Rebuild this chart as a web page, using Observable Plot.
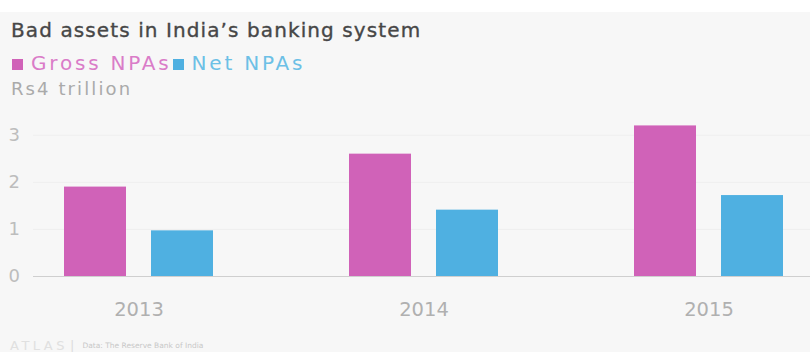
<!DOCTYPE html>
<html><head><meta charset="utf-8">
<script src="https://cdn.jsdelivr.net/npm/d3@7"></script>
<script src="https://cdn.jsdelivr.net/npm/@observablehq/plot@0.6"></script>
<style>
html,body{margin:0;padding:0;}
body{background:#f7f7f7;width:810px;height:352px;overflow:hidden;position:relative;font-family:"DejaVu Sans",sans-serif;}
#topband{position:absolute;left:0;top:0;width:810px;height:12px;background:#fff;}
.title{position:absolute;left:11px;top:18px;font-size:20px;line-height:24px;letter-spacing:1.1px;color:#474747;-webkit-text-stroke:0.35px #474747;white-space:nowrap;}
.legend{position:absolute;left:12px;top:51px;font-size:20px;line-height:24px;letter-spacing:2.8px;white-space:nowrap;}
.legend .sw{display:inline-block;width:11px;height:11px;margin-right:8px;vertical-align:0px;}
.legend .sw2{margin-left:1px;}
.unit{position:absolute;left:11px;top:78px;font-size:18px;line-height:22px;letter-spacing:2.1px;color:#aaa;white-space:nowrap;}
#grid, #chart{position:absolute;left:0;top:105px;}
.footer{position:absolute;left:10px;top:335px;white-space:nowrap;color:#ddd;}
.footer .atlas{font-size:13px;letter-spacing:3.5px;color:#e0e0e0;}
.footer .sep{font-size:13px;color:#ddd;margin:0 8px 0 2px;}
.footer .src{font-size:7.5px;color:#c8c8c8;vertical-align:2px;}
</style></head><body>
<div id="topband"></div>
<div class="title">Bad assets in India’s banking system</div>
<div class="legend" id="legend"></div>
<div class="unit">Rs4 trillion</div>
<div id="grid"></div>
<div id="chart"></div>
<div class="footer"><span class="atlas">ATLAS</span><span class="sep">|</span><span class="src">Data: The Reserve Bank of India</span></div>
<script>
const years = ["2013", "2014", "2015"];
const seriesNames = ["Gross NPAs", "Net NPAs"];
const grossNPAs = [1.9, 2.6, 3.2];
const netNPAs = [0.97, 1.41, 1.72];
const yTicks = [0, 1, 2, 3];
const colors = ["#d062b8", "#4fb0e1"];
const textColors = ["#da7cc8", "#6cc0e6"];

const data = years.flatMap((y, i) => [
  {year: y, series: seriesNames[0], value: grossNPAs[i]},
  {year: y, series: seriesNames[1], value: netNPAs[i]}
]);

const legend = document.getElementById("legend");
seriesNames.forEach((s, i) => {
  const sw = document.createElement("span");
  sw.className = i ? "sw sw2" : "sw"; sw.style.background = colors[i];
  const t = document.createElement("span");
  t.textContent = s; t.style.color = textColors[i];
  legend.appendChild(sw); legend.appendChild(t);
});

const font = "'DejaVu Sans', sans-serif";
const common = {
  width: 810, height: 225,
  marginTop: 11, marginBottom: 54, marginLeft: 8, marginRight: 0,
  style: {background: "transparent", fontFamily: font, overflow: "visible"},
  y: {domain: [0, 3.4], axis: null}
};

// background layer: gridlines, baseline and y tick labels spanning the full width
const grid = Plot.plot({
  ...common,
  marks: [
    Plot.ruleY(yTicks.filter(d => d > 0), {stroke: "#efefef", insetLeft: 25}),
    Plot.ruleY([0], {stroke: "#cfcfcf", insetLeft: 25}),
    Plot.text(yTicks, {y: d => d, text: d => String(d), frameAnchor: "left", textAnchor: "start", fontSize: 18, fill: "#bdbdbd"})
  ]
});
document.getElementById("grid").appendChild(grid);

// foreground layer: grouped bars and year labels
const chart = Plot.plot({
  ...common,
  fx: {domain: years, range: [62, 784], paddingInner: 0.471, paddingOuter: 0, label: null},
  x: {domain: seriesNames, paddingInner: 0.284, paddingOuter: 0, axis: null},
  color: {domain: seriesNames, range: colors},
  marks: [
    Plot.barY(data, {fx: "year", x: "series", y: "value", fill: "series"}),
    Plot.axisFx({anchor: "bottom", tickSize: 0, tickPadding: 26, fontSize: 19.5, color: "#b0b0b0", label: null})
  ]
});
document.getElementById("chart").appendChild(chart);
</script>
</body></html>
